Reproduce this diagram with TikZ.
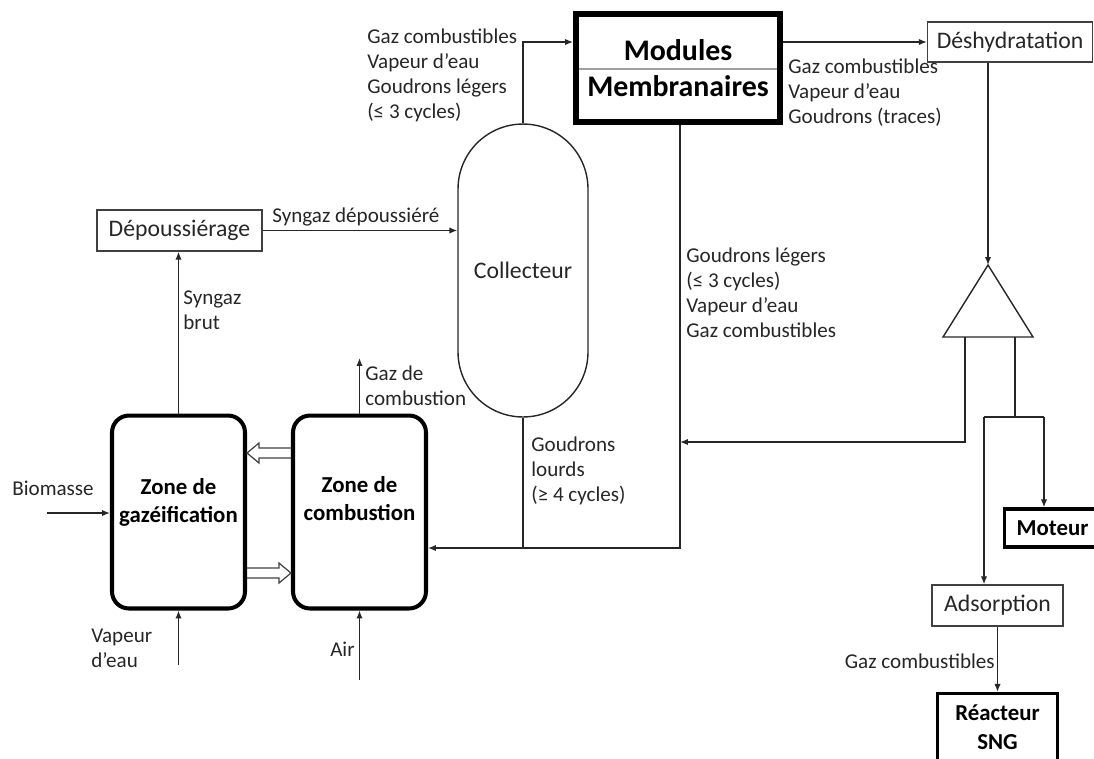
\documentclass[tikz,border=0pt]{standalone}
\usepackage{fontspec}
\setmainfont{Carlito}
\usetikzlibrary{arrows.meta,calc}

\begin{document}
\begin{tikzpicture}[
  x=0.02cm, y=-0.02cm,
  >={Latex[length=4.5pt,width=3.6pt]},
  line/.style={draw=black!85, line width=0.8pt},
  flow/.style={line, ->},
  plainbox/.style={draw=black!75, line width=0.8pt, rectangle, inner sep=0pt, text=black!85, font=\fontsize{13.5}{16}\selectfont},
  zonebox/.style={draw, line width=2.3pt, rounded corners=0.34cm, minimum width=2.66cm, minimum height=3.86cm, inner sep=0pt},
  zonetext/.style={align=center, inner sep=0pt, font=\bfseries\fontsize{13}{16}\selectfont},
  boldbox/.style={draw, line width=1.9pt, rectangle, inner sep=0pt, align=center, font=\bfseries\fontsize{13}{16.5}\selectfont},
  lbl/.style={align=left, inner sep=0pt, text=black!85, font=\fontsize{12}{14.2}\selectfont},
  hollow/.style={draw=black!75, line width=0.7pt, line join=miter}
]
\useasboundingbox (0,0) rectangle (1094,758);
\clip (0,0) rectangle (1094,758);

% reactor zones
\node[zonebox] (gaz) at (178.5,512) {};
\node[zonetext] (gaztxt) at (178.5,502) {Zone de\\gazéification};
\node[zonebox] (comb) at (359.5,512) {};
\node[zonetext] (combtxt) at (359.5,499) {Zone de\\combustion};

% treatment units
\node[plainbox, minimum width=3.3cm, minimum height=0.82cm] (depou) at (179.5,230.5) {Dépoussiérage};
\node[draw=black!85, line width=0.8pt, rounded corners=1.3cm, minimum width=2.6cm, minimum height=5.86cm, inner sep=0pt,
      text=black!85, font=\fontsize{13.5}{16}\selectfont] (coll) at (523,270.5) {Collecteur};
\draw[gray!75, line width=1.7pt] (578,69) -- (778,69);
\node[draw, line width=3.4pt, minimum width=4.08cm, minimum height=2.16cm, inner sep=0pt, align=center,
      font=\bfseries\fontsize{17}{20.5}\selectfont] (modules) at (678,68) {Modules\\Membranaires};
\node[plainbox, minimum width=3.3cm, minimum height=0.8cm] (desh) at (1010,42) {Déshydratation};
\node[plainbox, minimum width=2.62cm, minimum height=0.82cm] (adsorp) at (997.5,605.5) {Adsorption};
\node[boldbox, minimum width=2.4cm, minimum height=0.76cm] (moteur) at (1064.5,528) {Moteur\hspace*{0.48cm}};
\node[boldbox, minimum width=2.4cm, minimum height=1.34cm] (reacteur) at (997.5,727) {Réacteur\\SNG};

% splitter
\coordinate (apex) at (988,265);
\draw[line] (apex) -- (1033,337) -- (943,337) -- cycle;
\coordinate (baseL) at (965,337);
\coordinate (baseR) at (1015,337);

% free ends and bends
\coordinate (bio) at (47,513);
\coordinate (vap) at (178.5,665);
\coordinate (air) at (359.5,680);
\coordinate (fumes) at (359.5,358);
\coordinate (junc) at (680,548);
\coordinate (retour) at (965,442);
\coordinate (split) at (1015,417);
\coordinate (sL) at (984,417);
\coordinate (sR) at (1044,417);

% flows
\draw[flow] (bio) -- (bio -| gaz.west);
\draw[flow] (vap) -- (gaz.south);
\draw[flow] (air) -- (comb.south);
\draw[flow] (comb.north) -- (fumes);
\draw[flow] (gaz.north) -- (gaz.north |- depou.south);
\draw[flow] (depou.east) -- (coll.west |- depou.east);
\draw[flow] (coll.north) |- (modules.west |- 0,42);
\draw[flow] (modules.east |- desh.west) -- (desh.west);
\draw[flow] (desh.south -| apex) -- (apex);
\draw[flow] (modules.south -| junc) -- (junc) -- (junc -| comb.east);
\draw[line] (coll.south) -- (coll.south |- junc);
\draw[flow] (baseL) -- (retour) -- (retour -| junc);
\draw[line] (baseR) -- (split);
\draw[line] (sL) -- (sR);
\draw[flow] (sL) -- (sL |- adsorp.north);
\draw[flow] (sR) -- (sR |- moteur.north);
\draw[flow] (adsorp.south) -- (reacteur.north);

% solid transfer between zones
\draw[hollow] (comb.west |- 0,448) -- (259,448) -- (259,443) -- (gaz.east |- 0,453) -- (259,463) -- (259,458) -- (comb.west |- 0,458);
\draw[hollow] (gaz.east |- 0,568) -- (279,568) -- (279,563) -- (comb.west |- 0,573) -- (279,583) -- (279,578) -- (gaz.east |- 0,578);

% labels
\node[lbl, anchor=west] (lblIn) at (367,75.5) {Gaz combustibles\\Vapeur d’eau\\Goudrons légers\\(≤ 3 cycles)};
\node[lbl, anchor=west] (lblOut) at (788,93) {Gaz combustibles\\Vapeur d’eau\\Goudrons (traces)};
\node[lbl, anchor=west] (lblRet) at (686,293) {Goudrons légers\\(≤ 3 cycles)\\Vapeur d’eau\\Gaz combustibles};
\node[lbl, anchor=west] (lblLourds) at (531,471) {Goudrons\\lourds\\(≥ 4 cycles)};
\node[lbl, anchor=west] (lblDep) at (272,217) {Syngaz dépoussiéré};
\node[lbl, anchor=west] (lblBrut) at (183,310) {Syngaz\\brut};
\node[lbl, anchor=west] (lblFumes) at (365,385.5) {Gaz de\\combustion};
\node[lbl, anchor=west] (lblBio) at (12,488) {Biomasse};
\node[lbl, anchor=west] (lblVap) at (91,648.5) {Vapeur\\d’eau};
\node[lbl, anchor=east] (lblAir) at (355,649) {Air};
\node[lbl, anchor=east] (lblGaz) at (995,661) {Gaz combustibles};
\end{tikzpicture}
\end{document}
